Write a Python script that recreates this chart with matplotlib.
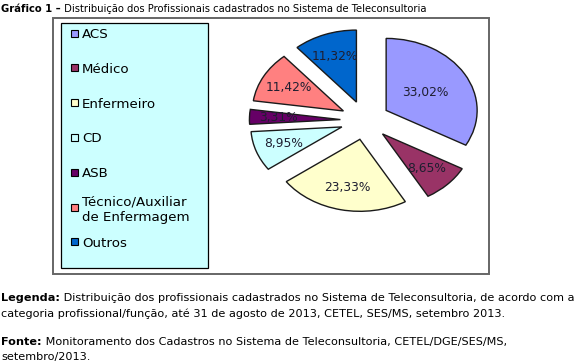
import numpy as np
import matplotlib.pyplot as plt
from matplotlib.patches import Rectangle

# Dados do grafico
categorias = ['ACS', 'Médico', 'Enfermeiro', 'CD', 'ASB',
              'Técnico/Auxiliar\nde Enfermagem', 'Outros']
percentuais = [33.02, 8.65, 23.33, 8.95, 3.31, 11.42, 11.32]
cores = ['#9999FF', '#993366', '#FFFFCC', '#CCFFFF', '#660066', '#FF8080', '#0066CC']

titulo_neg = 'Gráfico 1 –'
titulo = ' Distribuição dos Profissionais cadastrados no Sistema de Teleconsultoria'
legenda_neg = 'Legenda:'
legenda = [' Distribuição dos profissionais cadastrados no Sistema de Teleconsultoria, de acordo com a',
           'categoria profissional/função, até 31 de agosto de 2013, CETEL, SES/MS, setembro 2013.']
fonte_neg = 'Fonte:'
fonte = [' Monitoramento dos Cadastros no Sistema de Teleconsultoria, CETEL/DGE/SES/MS,',
         'setembro/2013.']

W, H = 577, 364
fig = plt.figure(figsize=(W / 100, H / 100), dpi=100)

# eixo de fundo em pixels (origem no topo)
bg = fig.add_axes([0, 0, 1, 1])
bg.set_xlim(0, W)
bg.set_ylim(H, 0)
bg.axis('off')

# moldura externa e caixa da legenda
bg.add_patch(Rectangle((53, 18), 436, 256, fill=False, edgecolor='#666666', lw=1.4))
bg.add_patch(Rectangle((61, 23), 147, 245, facecolor='#CCFFFF', edgecolor='black', lw=0.9))

# itens da legenda
for i, (cat, cor) in enumerate(zip(categorias, cores)):
    y = 33 + i * 34.8
    bg.add_patch(Rectangle((70.5, y - 3.5), 7, 7, facecolor=cor, edgecolor='black', lw=0.8))
    bg.text(82, y, cat, fontsize=9.6, va='center_baseline', ha='left', linespacing=1.3)

# pizza (eliptica como no original)
ax = fig.add_axes([0.396, 0.3728, 0.4731, 0.5934])
wedges, texts, autotexts = ax.pie(
    percentuais, colors=cores, startangle=90, counterclock=False,
    explode=[0.27] * len(percentuais), pctdistance=0.68,
    autopct=lambda p: f'{p:.2f}%'.replace('.', ','),
    wedgeprops=dict(edgecolor='#1a1a1a', linewidth=1.0),
    textprops=dict(fontsize=8.8, color='#1e1e30'))
ax.set_aspect('auto')
ax.set_xlim(-1.5, 1.5)
ax.set_ylim(-1.5, 1.5)

# rotulo da maior fatia mais perto do centro
w = wedges[0]
mid = np.deg2rad((w.theta1 + w.theta2) / 2)
autotexts[0].set_position((w.center[0] + 0.5 * np.cos(mid), w.center[1] + 0.5 * np.sin(mid)))

renderer = fig.canvas.get_renderer()


def texto_misto(x, y, negrito, resto, size):
    t = bg.text(x, y, negrito, fontsize=size, fontweight='bold', va='center_baseline')
    bb = t.get_window_extent(renderer)
    x2 = bg.transData.inverted().transform((bb.x1, 0))[0]
    bg.text(x2, y, resto, fontsize=size, va='center_baseline')


texto_misto(1, 8, titulo_neg, titulo, 7.2)
texto_misto(1, 297, legenda_neg, legenda[0], 8.1)
bg.text(1, 313, legenda[1], fontsize=8.1, va='center_baseline')
texto_misto(1, 341, fonte_neg, fonte[0], 8.1)
bg.text(1, 356, fonte[1], fontsize=8.1, va='center_baseline')

fig.savefig('out.png', dpi=100)
